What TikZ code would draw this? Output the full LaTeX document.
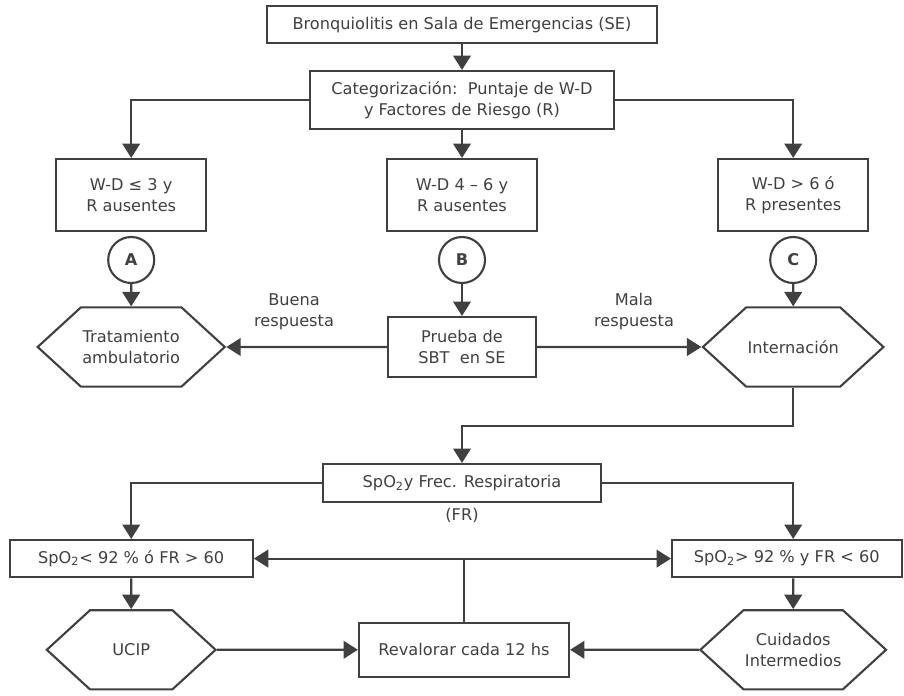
\documentclass[tikz,border=0pt]{standalone}
\usepackage{fontspec}
\setmainfont{DejaVu Sans}
\usetikzlibrary{arrows.meta,shapes.symbols}

\begin{document}
\begin{tikzpicture}[font=\fontsize{11.5}{15}\selectfont, color=black!75, line width=1.5pt,
        caja/.style={draw, rectangle, align=center, inner sep=2pt},
        hexa/.style={draw, signal, signal to=east and west, signal pointer angle=85,
            minimum width=4.22cm, minimum height=1.98cm, align=center, inner sep=1pt},
        letra/.style={draw, circle, minimum size=1.15cm, inner sep=0pt, font=\fontsize{11.5}{14}\selectfont\bfseries},
        flecha/.style={-{Triangle[length=0.36cm,width=0.44cm]}}]
    \useasboundingbox (0,0) rectangle (22.6,17.375);

    \node[caja, minimum width=9.73cm, minimum height=0.93cm] (inicio) at (11.55,16.76) {Bronquiolitis en Sala de Emergencias (SE)};
    \node[caja, minimum width=7.6cm, minimum height=1.45cm] (categ) at (11.55,14.875) {Categorización:\ \ Puntaje de W-D\\y Factores de Riesgo (R)};

    \node[caja, minimum width=3.75cm, minimum height=1.8cm] (leve) at (3.28,12.5) {W-D ≤ 3 y\\R ausentes};
    \node[caja, minimum width=3.75cm, minimum height=1.8cm] (moder) at (11.55,12.5) {W-D 4 – 6 y\\R ausentes};
    \node[caja, minimum width=3.75cm, minimum height=1.8cm] (grave) at (19.83,12.5) {W-D > 6 ó\\R presentes};

    \node[letra] (ca) at (3.28,10.875) {A};
    \node[letra] (cb) at (11.55,10.875) {B};
    \node[letra] (cc) at (19.83,10.875) {C};

    \node[hexa] (ambul) at (3.28,8.7) {Tratamiento\\ambulatorio};
    \node[caja, minimum width=3.7cm, minimum height=1.5cm] (prueba) at (11.55,8.7) {Prueba de\\SBT\ \ en SE};
    \node[hexa] (intern) at (19.83,8.7) {Internación};
    \node[align=center] (buena) at (7.35,9.59) {Buena\\respuesta};
    \node[align=center] (mala) at (15.85,9.59) {Mala\\respuesta};

    \coordinate (codo) at (11.55,6.725);
    \node[caja, minimum width=6.93cm, minimum height=0.95cm] (spo) at (11.55,5.3) {SpO\textsubscript{2}y Frec. Respiratoria};
    \node (fr) at (11.55,4.49) {(FR)};

    \node[caja, minimum width=6.08cm, minimum height=0.93cm] (malo) at (3.28,3.41) {SpO\textsubscript{2}< 92 \% ó FR > 60};
    \node[caja, minimum width=5.74cm, minimum height=0.93cm] (bueno) at (19.67,3.41) {SpO\textsubscript{2}> 92 \% y FR < 60};

    \node[hexa] (ucip) at (3.28,1.13) {UCIP};
    \node[caja, minimum width=5.25cm, minimum height=1.35cm] (reval) at (11.6,1.13) {Revalorar cada 12 hs};
    \node[hexa] (cuid) at (19.83,1.13) {Cuidados\\Intermedios};

    % arriba
    \draw[flecha] (inicio) -- (categ);
    \draw[flecha] (categ.west) -| (leve.north);
    \draw[flecha] (categ) -- (moder);
    \draw[flecha] (categ.east) -| (grave.north);
    \draw[flecha] (ca) -- (ambul);
    \draw[flecha] (cb) -- (prueba);
    \draw[flecha] (cc) -- (intern);
    \draw[flecha] (prueba) -- (ambul);
    \draw[flecha] (prueba) -- (intern);

    % abajo
    \draw[flecha] (intern.south) |- (codo) -- (spo.north);
    \draw[flecha] (spo.west) -| (malo.north);
    \draw[flecha] (spo.east) -| (cuid.north |- bueno.north);
    \draw[flecha] (malo) -- (ucip);
    \draw[flecha] (bueno.south -| cuid.north) -- (cuid);
    \draw[{Triangle[length=0.36cm,width=0.44cm]}-{Triangle[length=0.36cm,width=0.44cm]}] (malo) -- (bueno);
    \draw (reval.north) -- (reval.north |- malo.east);
    \draw[flecha] (ucip) -- (reval);
    \draw[flecha] (cuid) -- (reval);
\end{tikzpicture}
\end{document}
